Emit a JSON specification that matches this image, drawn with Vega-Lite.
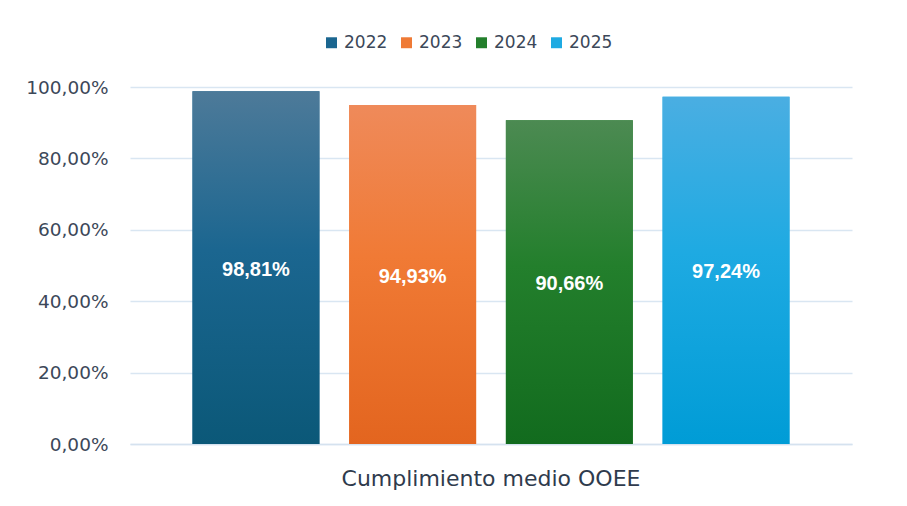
{
  "$schema": "https://vega.github.io/schema/vega-lite/v6.json",
  "width": 722,
  "height": 357,
  "autosize": "none",
  "padding": {"left": 130, "top": 87, "right": 55, "bottom": 62},
  "background": "white",
  "config": {
    "view": {"stroke": null},
    "locale": {"number": {"decimal": ",", "thousands": ".", "grouping": [3], "currency": ["", " €"]}},
    "font": "DejaVu Sans"
  },
  "data": {
    "values": [
      {"categoria": "Cumplimiento medio OOEE", "year": "2022", "value": 0.9881},
      {"categoria": "Cumplimiento medio OOEE", "year": "2023", "value": 0.9493},
      {"categoria": "Cumplimiento medio OOEE", "year": "2024", "value": 0.9066},
      {"categoria": "Cumplimiento medio OOEE", "year": "2025", "value": 0.9724}
    ]
  },
  "encoding": {
    "x": {
      "field": "categoria",
      "type": "nominal",
      "scale": {"paddingInner": 0, "paddingOuter": 0.1047},
      "axis": {
        "title": null,
        "labelAngle": 0,
        "labelFontSize": 22,
        "labelColor": "#2f3b4d",
        "labelPadding": 24,
        "labelLimit": 600,
        "ticks": false,
        "domainColor": "#d5e2ef",
        "domainWidth": 1.5
      }
    },
    "xOffset": {
      "field": "year",
      "type": "nominal",
      "scale": {"paddingInner": 0.19, "paddingOuter": 0}
    }
  },
  "layer": [
    {
      "mark": {"type": "bar"},
      "encoding": {
        "y": {
          "field": "value",
          "type": "quantitative",
          "scale": {"domain": [0, 1]},
          "axis": {
            "title": null,
            "format": ".2%",
            "values": [0, 0.2, 0.4, 0.6, 0.8, 1],
            "labelFontSize": 18.5,
            "labelColor": "#3c4859",
            "labelPadding": 22,
            "ticks": false,
            "domain": false,
            "gridColor": "#d9e6f2",
            "gridWidth": 1.5
          }
        },
        "color": {
          "field": "year",
          "type": "nominal",
          "scale": {"domain": ["2022", "2023", "2024", "2025"], "range": ["#1b6690", "#ef7a35", "#237f2c", "#1eaae2"]},
          "legend": {
            "title": null,
            "orient": "none",
            "direction": "horizontal",
            "legendX": 193,
            "legendY": -53,
            "symbolType": "square",
            "symbolSize": 120,
            "symbolStrokeWidth": 0,
            "labelFontSize": 17,
            "labelColor": "#3c4859",
            "columnPadding": 10,
            "labelOffset": 4
          }
        }
      }
    },
    {
      "mark": {"type": "bar"},
      "encoding": {
        "y": {"field": "value", "type": "quantitative"},
        "fill": {
          "condition": [
            {"test": "datum.year === '2022'", "value": {"gradient": "linear", "x1": 0, "y1": 0, "x2": 0, "y2": 1, "stops": [{"offset": 0, "color": "#4d7a99"}, {"offset": 0.45, "color": "#1b6690"}, {"offset": 1, "color": "#0b5878"}]}},
            {"test": "datum.year === '2023'", "value": {"gradient": "linear", "x1": 0, "y1": 0, "x2": 0, "y2": 1, "stops": [{"offset": 0, "color": "#ef8a5a"}, {"offset": 0.45, "color": "#f07a35"}, {"offset": 1, "color": "#e3651f"}]}},
            {"test": "datum.year === '2024'", "value": {"gradient": "linear", "x1": 0, "y1": 0, "x2": 0, "y2": 1, "stops": [{"offset": 0, "color": "#4c8a52"}, {"offset": 0.45, "color": "#237f2c"}, {"offset": 1, "color": "#126b1e"}]}}
          ],
          "value": {"gradient": "linear", "x1": 0, "y1": 0, "x2": 0, "y2": 1, "stops": [{"offset": 0, "color": "#4aaee2"}, {"offset": 0.45, "color": "#1eaae2"}, {"offset": 1, "color": "#009cd6"}]}
        }
      }
    },
    {
      "transform": [{"calculate": "datum.value / 2", "as": "label_pos"}],
      "mark": {"type": "text", "color": "white", "fontSize": 20, "fontWeight": "bold", "font": "Liberation Sans", "baseline": "middle", "dy": 2},
      "encoding": {
        "y": {"field": "label_pos", "type": "quantitative"},
        "text": {"field": "value", "type": "quantitative", "format": ".2%"}
      }
    }
  ]
}
